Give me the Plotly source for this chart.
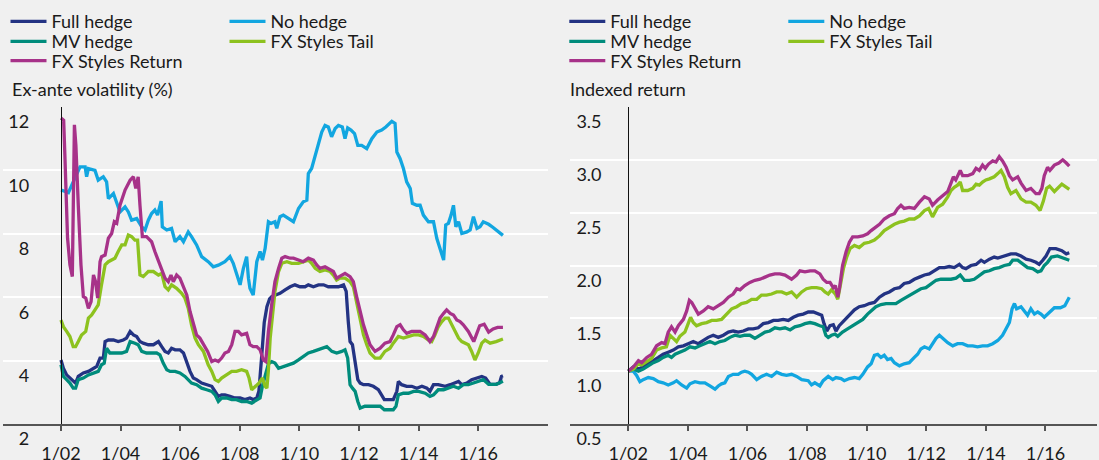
import plotly.graph_objects as go

# ---------------- data ----------------
SERIES = ["Full hedge", "No hedge", "MV hedge", "FX Styles Tail", "FX Styles Return"]
COLORS = ["#233383", "#12a6e0", "#008c7c", "#8dc21f", "#a73289"]
TICK_YEARS = [2002, 2004, 2006, 2008, 2010, 2012, 2014, 2016]
TICK_TEXT = ["1/02", "1/04", "1/06", "1/08", "1/10", "1/12", "1/14", "1/16"]
VOL_TICKS = [2, 4, 6, 8, 10, 12]
RET_TICKS = [0.5, 1.0, 1.5, 2.0, 2.5, 3.0, 3.5]
RET_TICK_TEXT = ["0.5", "1.0", "1.5", "2.0", "2.5", "3.0", "3.5"]

# Ex-ante volatility (%)
VOL_FULL_T = [2002.00, 2002.08, 2002.19, 2002.30, 2002.41, 2002.49, 2002.58, 2002.75, 2002.92, 2003.09, 2003.20,
              2003.31, 2003.42, 2003.48, 2003.59, 2003.76, 2003.92, 2004.09, 2004.20, 2004.32, 2004.43, 2004.54,
              2004.65, 2004.76, 2004.93, 2005.10, 2005.27, 2005.38, 2005.49, 2005.60, 2005.71, 2005.83, 2005.99,
              2006.11, 2006.22, 2006.33, 2006.44, 2006.55, 2006.72, 2006.89, 2007.06, 2007.17, 2007.28, 2007.39,
              2007.50, 2007.67, 2007.84, 2008.01, 2008.17, 2008.34, 2008.45, 2008.57, 2008.64, 2008.73, 2008.82,
              2008.91, 2009.00, 2009.07, 2009.18, 2009.35, 2009.52, 2009.69, 2009.85, 2010.02, 2010.19, 2010.30,
              2010.47, 2010.64, 2010.81, 2010.97, 2011.14, 2011.31, 2011.48, 2011.57, 2011.64, 2011.70, 2011.78,
              2011.87, 2011.96, 2012.04, 2012.15, 2012.32, 2012.48, 2012.65, 2012.76, 2012.85, 2012.99, 2013.15,
              2013.27, 2013.32, 2013.43, 2013.60, 2013.77, 2013.94, 2014.11, 2014.28, 2014.38, 2014.50, 2014.66,
              2014.89, 2015.06, 2015.22, 2015.34, 2015.45, 2015.62, 2015.78, 2015.95, 2016.12, 2016.25, 2016.40,
              2016.60, 2016.72, 2016.78, 2016.83]
VOL_FULL = [4.02, 3.76, 3.55, 3.45, 3.34, 3.29, 3.50, 3.61, 3.66, 3.76, 3.82,
            4.08, 4.08, 4.60, 4.65, 4.65, 4.60, 4.65, 4.71, 4.92, 4.81, 4.76,
            4.60, 4.55, 4.50, 4.50, 4.60, 4.44, 4.29, 4.24, 4.39, 4.34, 4.34,
            4.24, 3.92, 3.66, 3.45, 3.40, 3.29, 3.24, 3.19, 3.03, 2.87, 2.92,
            2.92, 2.87, 2.82, 2.82, 2.77, 2.82, 2.77, 2.82, 3.03, 4.08, 5.20,
            5.70, 5.95, 6.02, 6.07, 6.12, 6.23, 6.33, 6.39, 6.33, 6.33, 6.39,
            6.33, 6.39, 6.39, 6.33, 6.33, 6.33, 6.39, 6.18, 5.23, 4.60, 4.50,
            3.97, 3.40, 3.29, 3.24, 3.24, 3.19, 3.08, 2.92, 2.77, 2.77, 2.77,
            3.03, 3.34, 3.24, 3.19, 3.19, 3.13, 3.19, 3.13, 3.03, 3.24, 3.24,
            3.19, 3.24, 3.29, 3.34, 3.24, 3.29, 3.40, 3.45, 3.50, 3.45, 3.25,
            3.25, 3.30, 3.50, 3.52]

VOL_NONE_T = [2002.00, 2002.25, 2002.41, 2002.64, 2002.81, 2002.86, 2002.92, 2003.14, 2003.25, 2003.42, 2003.53,
              2003.59, 2003.76, 2003.87, 2003.98, 2004.15, 2004.26, 2004.37, 2004.54, 2004.71, 2004.82, 2004.93,
              2005.04, 2005.15, 2005.24, 2005.36, 2005.40, 2005.55, 2005.71, 2005.83, 2005.99, 2006.11, 2006.27,
              2006.38, 2006.55, 2006.72, 2006.94, 2007.11, 2007.28, 2007.50, 2007.67, 2007.78, 2007.89, 2008.01,
              2008.12, 2008.23, 2008.29, 2008.34, 2008.45, 2008.57, 2008.68, 2008.76, 2008.85, 2008.96, 2009.05,
              2009.18, 2009.24, 2009.35, 2009.46, 2009.63, 2009.80, 2009.97, 2010.13, 2010.25, 2010.30, 2010.41,
              2010.53, 2010.64, 2010.75, 2010.86, 2010.97, 2011.08, 2011.20, 2011.31, 2011.44, 2011.53, 2011.62,
              2011.73, 2011.85, 2011.96, 2012.09, 2012.26, 2012.43, 2012.60, 2012.76, 2012.90, 2013.10, 2013.21,
              2013.27, 2013.38, 2013.49, 2013.60, 2013.72, 2013.79, 2013.94, 2014.05, 2014.16, 2014.33, 2014.50,
              2014.61, 2014.72, 2014.84, 2014.91, 2015.00, 2015.09, 2015.17, 2015.25, 2015.34, 2015.45, 2015.62,
              2015.73, 2015.84, 2015.96, 2016.06, 2016.17, 2016.35, 2016.50, 2016.65, 2016.83]
VOL_NONE = [9.38, 9.30, 9.64, 10.11, 10.11, 9.80, 10.06, 10.00, 9.69, 9.80, 9.64,
            9.11, 9.27, 9.01, 8.69, 8.85, 8.69, 8.43, 8.48, 8.22, 8.12, 8.43,
            8.64, 8.75, 8.59, 9.03, 8.22, 8.12, 8.17, 7.75, 7.91, 7.75, 8.06,
            7.91, 7.65, 7.28, 7.12, 6.96, 7.01, 7.12, 7.28, 7.07, 6.70, 6.39,
            6.91, 7.28, 6.60, 6.28, 6.07, 7.12, 7.44, 7.17, 7.54, 8.38, 8.33,
            8.38, 8.17, 8.54, 8.59, 8.48, 8.38, 8.80, 9.01, 9.06, 9.90, 10.06,
            10.48, 10.85, 11.21, 11.42, 11.37, 11.06, 11.32, 11.42, 11.37, 11.00, 11.34,
            11.27, 11.16, 10.79, 10.79, 10.69, 11.00, 11.21, 11.27, 11.37, 11.55, 11.48,
            10.58, 10.37, 10.06, 9.64, 9.43, 8.96, 8.90, 8.90, 8.59, 8.38, 8.38,
            7.86, 7.54, 7.17, 8.28, 8.33, 8.59, 8.90, 8.22, 8.38, 8.01, 8.06,
            8.12, 8.54, 8.17, 8.22, 8.38, 8.30, 8.20, 8.10, 7.95]

VOL_MV_T = [2002.00, 2002.08, 2002.19, 2002.30, 2002.41, 2002.49, 2002.58, 2002.75, 2002.92, 2003.09, 2003.25,
            2003.36, 2003.45, 2003.53, 2003.64, 2003.81, 2004.04, 2004.20, 2004.32, 2004.48, 2004.59, 2004.71,
            2004.87, 2005.04, 2005.21, 2005.32, 2005.43, 2005.55, 2005.66, 2005.83, 2005.99, 2006.16, 2006.27,
            2006.38, 2006.55, 2006.72, 2006.89, 2007.06, 2007.17, 2007.28, 2007.39, 2007.56, 2007.73, 2007.89,
            2008.06, 2008.23, 2008.40, 2008.57, 2008.68, 2008.76, 2008.85, 2008.96, 2009.07, 2009.18, 2009.30,
            2009.46, 2009.63, 2009.80, 2009.97, 2010.13, 2010.30, 2010.47, 2010.64, 2010.81, 2010.92, 2011.09,
            2011.25, 2011.42, 2011.53, 2011.62, 2011.70, 2011.78, 2011.87, 2011.96, 2012.04, 2012.20, 2012.37,
            2012.54, 2012.71, 2012.85, 2012.99, 2013.15, 2013.24, 2013.32, 2013.49, 2013.66, 2013.83, 2014.00,
            2014.22, 2014.38, 2014.50, 2014.66, 2014.84, 2015.00, 2015.17, 2015.34, 2015.50, 2015.67, 2015.84,
            2016.00, 2016.17, 2016.35, 2016.60, 2016.83]
VOL_MV = [3.87, 3.50, 3.40, 3.29, 3.13, 3.13, 3.40, 3.45, 3.55, 3.61, 3.66,
          3.87, 3.92, 4.39, 4.24, 4.24, 4.24, 4.29, 4.60, 4.55, 4.50, 4.29,
          4.24, 4.24, 4.24, 4.18, 3.92, 3.71, 3.66, 3.66, 3.61, 3.50, 3.40,
          3.29, 3.24, 3.13, 3.08, 3.03, 2.92, 2.71, 2.82, 2.82, 2.77, 2.77,
          2.71, 2.71, 2.66, 2.77, 2.82, 3.20, 3.55, 3.90, 3.97, 3.92, 3.76,
          3.82, 3.87, 3.92, 4.02, 4.13, 4.24, 4.29, 4.34, 4.39, 4.44, 4.29,
          4.24, 4.29, 4.34, 4.08, 3.24, 3.13, 3.03, 2.71, 2.50, 2.56, 2.56,
          2.56, 2.56, 2.45, 2.45, 2.45, 2.56, 2.92, 2.97, 2.97, 3.03, 3.03,
          2.97, 2.87, 2.92, 3.08, 3.08, 3.13, 3.19, 3.13, 3.24, 3.24, 3.29,
          3.34, 3.40, 3.25, 3.25, 3.35]

VOL_TAIL_T = [2002.00, 2002.08, 2002.19, 2002.30, 2002.41, 2002.49, 2002.58, 2002.69, 2002.83, 2002.92, 2003.03,
              2003.14, 2003.25, 2003.36, 2003.48, 2003.59, 2003.70, 2003.81, 2003.92, 2004.04, 2004.15, 2004.26,
              2004.37, 2004.48, 2004.57, 2004.65, 2004.76, 2004.93, 2005.10, 2005.27, 2005.38, 2005.49, 2005.60,
              2005.71, 2005.88, 2006.05, 2006.16, 2006.27, 2006.38, 2006.50, 2006.61, 2006.78, 2006.94, 2007.06,
              2007.17, 2007.28, 2007.39, 2007.56, 2007.73, 2007.89, 2008.06, 2008.23, 2008.31, 2008.40, 2008.51,
              2008.64, 2008.76, 2008.85, 2008.91, 2008.96, 2009.02, 2009.10, 2009.18, 2009.30, 2009.41, 2009.58,
              2009.74, 2009.97, 2010.19, 2010.30, 2010.41, 2010.53, 2010.69, 2010.86, 2011.03, 2011.14, 2011.25,
              2011.36, 2011.53, 2011.70, 2011.81, 2011.92, 2012.04, 2012.15, 2012.26, 2012.37, 2012.54, 2012.71,
              2012.87, 2013.04, 2013.15, 2013.32, 2013.49, 2013.66, 2013.83, 2014.00, 2014.16, 2014.33, 2014.44,
              2014.55, 2014.66, 2014.78, 2014.89, 2015.00, 2015.11, 2015.22, 2015.34, 2015.45, 2015.56, 2015.67,
              2015.78, 2015.89, 2016.00, 2016.12, 2016.23, 2016.40, 2016.60, 2016.83]
VOL_TAIL = [5.28, 5.07, 4.92, 4.76, 4.44, 4.44, 4.60, 4.81, 4.92, 5.34, 5.44,
            5.60, 5.76, 6.39, 7.02, 7.12, 7.17, 7.23, 7.44, 7.65, 7.65, 7.96,
            7.91, 7.80, 7.80, 6.70, 6.65, 6.81, 6.81, 6.70, 6.75, 6.33, 6.23,
            6.39, 6.28, 6.12, 5.97, 5.65, 5.13, 4.71, 4.50, 4.29, 3.87, 3.66,
            3.40, 3.34, 3.45, 3.55, 3.66, 3.66, 3.71, 3.66, 3.45, 3.08, 3.19,
            3.29, 3.45, 3.19, 3.13, 3.70, 4.71, 5.34, 6.18, 6.81, 7.07, 7.12,
            7.07, 7.07, 7.12, 7.17, 7.07, 6.91, 6.81, 6.86, 6.81, 6.70, 6.54,
            6.60, 6.60, 6.49, 6.33, 5.86, 5.34, 4.81, 4.50, 4.24, 4.08, 4.08,
            4.29, 4.39, 4.55, 4.76, 4.71, 4.76, 4.81, 4.81, 4.76, 4.65, 4.60,
            4.81, 5.07, 5.23, 5.34, 5.34, 5.13, 4.92, 4.71, 4.60, 4.55, 4.50,
            4.29, 4.02, 4.24, 4.55, 4.65, 4.55, 4.60, 4.68]

VOL_RET_T = [2002.00, 2002.09, 2002.13, 2002.22, 2002.30, 2002.38, 2002.45, 2002.50, 2002.58, 2002.67, 2002.75,
             2002.83, 2002.92, 2003.01, 2003.09, 2003.16, 2003.23, 2003.31, 2003.36, 2003.48, 2003.59, 2003.70,
             2003.79, 2003.87, 2003.98, 2004.15, 2004.32, 2004.43, 2004.51, 2004.59, 2004.65, 2004.73, 2004.87,
             2005.04, 2005.15, 2005.27, 2005.38, 2005.49, 2005.60, 2005.69, 2005.77, 2005.88, 2005.99, 2006.11,
             2006.22, 2006.33, 2006.44, 2006.55, 2006.66, 2006.78, 2006.92, 2007.06, 2007.17, 2007.28, 2007.39,
             2007.50, 2007.62, 2007.73, 2007.84, 2007.95, 2008.06, 2008.23, 2008.34, 2008.45, 2008.57, 2008.68,
             2008.79, 2008.87, 2008.96, 2009.07, 2009.18, 2009.30, 2009.41, 2009.52, 2009.69, 2009.80, 2009.97,
             2010.13, 2010.30, 2010.47, 2010.58, 2010.69, 2010.86, 2011.03, 2011.14, 2011.25, 2011.36, 2011.53,
             2011.70, 2011.81, 2011.92, 2012.04, 2012.15, 2012.26, 2012.37, 2012.54, 2012.71, 2012.87, 2013.04,
             2013.15, 2013.27, 2013.38, 2013.49, 2013.60, 2013.77, 2013.88, 2014.05, 2014.22, 2014.38, 2014.50,
             2014.61, 2014.72, 2014.84, 2014.94, 2015.06, 2015.17, 2015.28, 2015.39, 2015.50, 2015.67, 2015.85,
             2016.05, 2016.20, 2016.35, 2016.50, 2016.65, 2016.83]
VOL_RET = [11.65, 11.58, 10.48, 7.86, 7.02, 6.65, 11.44, 10.79, 8.90, 7.02, 6.02,
           5.97, 5.65, 5.86, 6.70, 6.49, 5.97, 7.12, 7.28, 7.33, 7.86, 8.01,
           8.38, 8.33, 8.90, 9.38, 9.69, 9.80, 9.43, 9.80, 8.90, 7.91, 7.91,
           7.75, 7.44, 7.12, 6.86, 6.60, 6.49, 6.70, 6.49, 6.70, 6.60, 6.33,
           6.07, 5.55, 5.13, 4.81, 4.71, 4.50, 4.29, 3.97, 4.02, 3.97, 4.08,
           4.24, 4.29, 4.50, 4.92, 4.92, 4.81, 4.86, 4.50, 4.44, 4.44, 4.34,
           4.02, 3.97, 4.92, 5.76, 6.49, 6.91, 7.23, 7.28, 7.23, 7.23, 7.17,
           7.12, 7.23, 7.17, 7.02, 6.91, 6.96, 6.86, 6.81, 6.60, 6.65, 6.75,
           6.65, 6.49, 6.02, 5.55, 5.13, 4.81, 4.50, 4.29, 4.39, 4.55, 4.60,
           4.81, 5.07, 5.13, 4.97, 4.86, 4.92, 4.92, 4.92, 4.81, 4.60, 4.76,
           5.07, 5.34, 5.49, 5.60, 5.49, 5.44, 5.28, 5.23, 5.13, 4.92, 4.60,
           5.10, 5.15, 4.90, 5.00, 5.05, 5.05]

# Indexed return
RET_FULL_T = [2002.00, 2002.17, 2002.34, 2002.50, 2002.67, 2002.84, 2003.01, 2003.17, 2003.34, 2003.51, 2003.68,
              2003.85, 2004.01, 2004.18, 2004.35, 2004.52, 2004.68, 2004.85, 2005.02, 2005.19, 2005.36, 2005.52,
              2005.69, 2005.86, 2006.03, 2006.19, 2006.36, 2006.53, 2006.70, 2006.87, 2007.03, 2007.20, 2007.37,
              2007.54, 2007.70, 2007.87, 2008.04, 2008.21, 2008.38, 2008.49, 2008.57, 2008.66, 2008.77, 2008.88,
              2008.97, 2009.08, 2009.25, 2009.42, 2009.59, 2009.75, 2009.92, 2010.09, 2010.26, 2010.43, 2010.59,
              2010.76, 2010.93, 2011.10, 2011.26, 2011.43, 2011.60, 2011.77, 2011.94, 2012.10, 2012.27, 2012.44,
              2012.61, 2012.77, 2012.94, 2013.11, 2013.22, 2013.33, 2013.50, 2013.67, 2013.84, 2013.95, 2014.12,
              2014.28, 2014.40, 2014.51, 2014.68, 2014.84, 2015.01, 2015.18, 2015.35, 2015.51, 2015.68, 2015.79,
              2015.91, 2016.02, 2016.15, 2016.35, 2016.55, 2016.70, 2016.80]
RET_FULL = [1.00, 1.04, 1.02, 1.04, 1.08, 1.10, 1.13, 1.16, 1.18, 1.20, 1.23,
            1.24, 1.26, 1.28, 1.26, 1.29, 1.32, 1.34, 1.32, 1.34, 1.37, 1.38,
            1.37, 1.38, 1.40, 1.40, 1.41, 1.45, 1.46, 1.48, 1.48, 1.49, 1.48,
            1.51, 1.53, 1.54, 1.56, 1.56, 1.54, 1.53, 1.45, 1.38, 1.43, 1.44,
            1.38, 1.43, 1.48, 1.53, 1.58, 1.61, 1.62, 1.64, 1.65, 1.70, 1.73,
            1.75, 1.78, 1.79, 1.83, 1.84, 1.87, 1.89, 1.91, 1.92, 1.95, 1.98,
            1.98, 1.99, 1.98, 2.01, 1.98, 1.97, 2.00, 2.01, 2.05, 2.03, 2.06,
            2.08, 2.07, 2.08, 2.09, 2.11, 2.11, 2.09, 2.06, 2.05, 2.03, 2.01,
            2.05, 2.09, 2.16, 2.16, 2.14, 2.11, 2.12]

RET_NONE_T = [2002.00, 2002.17, 2002.28, 2002.39, 2002.50, 2002.67, 2002.84, 2003.01, 2003.17, 2003.34, 2003.51,
              2003.62, 2003.79, 2003.96, 2004.07, 2004.24, 2004.40, 2004.57, 2004.74, 2004.91, 2005.02, 2005.13,
              2005.24, 2005.36, 2005.52, 2005.69, 2005.80, 2005.91, 2006.03, 2006.14, 2006.31, 2006.47, 2006.64,
              2006.81, 2006.98, 2007.15, 2007.31, 2007.48, 2007.65, 2007.82, 2008.04, 2008.15, 2008.26, 2008.43,
              2008.54, 2008.71, 2008.86, 2008.97, 2009.14, 2009.25, 2009.42, 2009.59, 2009.75, 2009.87, 2010.03,
              2010.15, 2010.26, 2010.37, 2010.48, 2010.59, 2010.70, 2010.82, 2010.93, 2011.10, 2011.26, 2011.43,
              2011.60, 2011.71, 2011.82, 2011.94, 2012.10, 2012.21, 2012.33, 2012.44, 2012.55, 2012.72, 2012.89,
              2013.05, 2013.22, 2013.39, 2013.56, 2013.72, 2013.89, 2014.06, 2014.23, 2014.40, 2014.56, 2014.68,
              2014.79, 2014.88, 2014.96, 2015.03, 2015.18, 2015.29, 2015.40, 2015.51, 2015.63, 2015.74, 2015.85,
              2015.96, 2016.07, 2016.30, 2016.50, 2016.65, 2016.80]
RET_NONE = [1.00, 1.00, 0.96, 0.90, 0.92, 0.94, 0.93, 0.90, 0.89, 0.87, 0.89,
            0.91, 0.87, 0.84, 0.88, 0.90, 0.89, 0.89, 0.86, 0.83, 0.86, 0.88,
            0.89, 0.95, 0.97, 0.97, 0.99, 1.00, 0.99, 0.97, 0.92, 0.95, 0.97,
            0.95, 0.99, 0.97, 0.96, 0.97, 0.95, 0.92, 0.91, 0.87, 0.89, 0.86,
            0.91, 0.95, 0.92, 0.94, 0.93, 0.91, 0.93, 0.94, 0.93, 0.97, 1.04,
            1.07, 1.15, 1.16, 1.13, 1.15, 1.11, 1.12, 1.08, 1.05, 1.07, 1.08,
            1.13, 1.16, 1.21, 1.23, 1.21, 1.26, 1.31, 1.34, 1.31, 1.27, 1.24,
            1.26, 1.26, 1.24, 1.24, 1.23, 1.24, 1.24, 1.26, 1.29, 1.34, 1.40,
            1.46, 1.59, 1.64, 1.59, 1.61, 1.57, 1.53, 1.59, 1.54, 1.56, 1.54,
            1.51, 1.54, 1.60, 1.60, 1.62, 1.70]

RET_MV_T = [2002.00, 2002.17, 2002.34, 2002.50, 2002.67, 2002.84, 2003.01, 2003.17, 2003.34, 2003.45, 2003.57,
            2003.73, 2003.90, 2004.07, 2004.24, 2004.40, 2004.57, 2004.74, 2004.91, 2005.08, 2005.24, 2005.41,
            2005.58, 2005.75, 2005.91, 2006.08, 2006.25, 2006.42, 2006.59, 2006.75, 2006.92, 2007.09, 2007.26,
            2007.43, 2007.59, 2007.76, 2007.93, 2008.10, 2008.26, 2008.43, 2008.54, 2008.63, 2008.71, 2008.82,
            2008.94, 2009.03, 2009.19, 2009.36, 2009.53, 2009.70, 2009.87, 2010.03, 2010.15, 2010.31, 2010.48,
            2010.65, 2010.82, 2010.98, 2011.15, 2011.32, 2011.49, 2011.66, 2011.82, 2011.99, 2012.16, 2012.33,
            2012.49, 2012.66, 2012.83, 2013.00, 2013.14, 2013.28, 2013.45, 2013.61, 2013.78, 2013.95, 2014.12,
            2014.28, 2014.45, 2014.62, 2014.79, 2014.90, 2015.07, 2015.24, 2015.40, 2015.57, 2015.74, 2015.85,
            2015.96, 2016.07, 2016.20, 2016.40, 2016.60, 2016.80]
RET_MV = [1.00, 1.02, 1.00, 1.02, 1.05, 1.08, 1.10, 1.13, 1.15, 1.13, 1.16,
          1.18, 1.20, 1.23, 1.22, 1.24, 1.26, 1.28, 1.26, 1.28, 1.29, 1.32,
          1.34, 1.33, 1.34, 1.34, 1.31, 1.34, 1.37, 1.38, 1.41, 1.40, 1.41,
          1.39, 1.42, 1.43, 1.45, 1.46, 1.45, 1.43, 1.42, 1.34, 1.32, 1.34,
          1.35, 1.33, 1.37, 1.40, 1.43, 1.46, 1.49, 1.54, 1.57, 1.61, 1.63,
          1.64, 1.64, 1.64, 1.67, 1.70, 1.73, 1.76, 1.78, 1.79, 1.83, 1.86,
          1.87, 1.87, 1.87, 1.88, 1.91, 1.86, 1.86, 1.87, 1.91, 1.94, 1.95,
          1.97, 1.98, 2.00, 2.01, 2.05, 2.05, 2.01, 1.98, 1.97, 1.94, 1.95,
          2.00, 2.03, 2.08, 2.09, 2.07, 2.05]

RET_TAIL_T = [2002.00, 2002.17, 2002.34, 2002.45, 2002.62, 2002.78, 2002.95, 2003.12, 2003.28, 2003.40, 2003.51,
              2003.62, 2003.73, 2003.90, 2004.01, 2004.09, 2004.18, 2004.29, 2004.46, 2004.63, 2004.80, 2004.96,
              2005.13, 2005.30, 2005.47, 2005.64, 2005.80, 2005.97, 2006.14, 2006.31, 2006.47, 2006.64, 2006.81,
              2006.98, 2007.15, 2007.31, 2007.48, 2007.65, 2007.82, 2007.98, 2008.15, 2008.32, 2008.49, 2008.60,
              2008.71, 2008.82, 2008.95, 2009.03, 2009.11, 2009.22, 2009.33, 2009.44, 2009.59, 2009.75, 2009.92,
              2010.09, 2010.26, 2010.43, 2010.59, 2010.76, 2010.93, 2011.10, 2011.26, 2011.43, 2011.60, 2011.77,
              2011.94, 2012.08, 2012.21, 2012.38, 2012.55, 2012.72, 2012.83, 2012.94, 2013.05, 2013.14, 2013.22,
              2013.39, 2013.56, 2013.67, 2013.78, 2013.89, 2014.00, 2014.12, 2014.28, 2014.40, 2014.51, 2014.62,
              2014.73, 2014.84, 2015.01, 2015.18, 2015.35, 2015.51, 2015.68, 2015.82, 2015.93, 2016.04, 2016.14,
              2016.30, 2016.55, 2016.80]
RET_TAIL = [1.00, 1.02, 1.07, 1.06, 1.09, 1.12, 1.20, 1.22, 1.23, 1.34, 1.31,
            1.28, 1.33, 1.37, 1.45, 1.51, 1.46, 1.43, 1.45, 1.46, 1.48, 1.48,
            1.49, 1.54, 1.59, 1.61, 1.64, 1.65, 1.68, 1.68, 1.72, 1.72, 1.73,
            1.75, 1.75, 1.73, 1.75, 1.70, 1.75, 1.78, 1.79, 1.79, 1.78, 1.75,
            1.73, 1.77, 1.73, 1.68, 1.81, 1.97, 2.08, 2.16, 2.19, 2.17, 2.21,
            2.22, 2.24, 2.28, 2.33, 2.36, 2.39, 2.41, 2.42, 2.44, 2.44, 2.47,
            2.52, 2.54, 2.46, 2.55, 2.58, 2.65, 2.71, 2.74, 2.76, 2.79, 2.71,
            2.71, 2.73, 2.77, 2.76, 2.79, 2.81, 2.82, 2.84, 2.87, 2.90, 2.84,
            2.74, 2.68, 2.71, 2.63, 2.60, 2.60, 2.57, 2.52, 2.61, 2.73, 2.75,
            2.70, 2.77, 2.72]

RET_RET_T = [2002.00, 2002.17, 2002.34, 2002.45, 2002.62, 2002.78, 2002.95, 2003.12, 2003.23, 2003.34, 2003.45,
             2003.57, 2003.68, 2003.85, 2003.96, 2004.05, 2004.13, 2004.24, 2004.35, 2004.52, 2004.68, 2004.85,
             2005.02, 2005.19, 2005.36, 2005.52, 2005.64, 2005.75, 2005.91, 2006.08, 2006.25, 2006.42, 2006.59,
             2006.75, 2006.92, 2007.09, 2007.26, 2007.37, 2007.48, 2007.65, 2007.76, 2007.93, 2008.10, 2008.26,
             2008.43, 2008.54, 2008.66, 2008.77, 2008.88, 2008.95, 2009.03, 2009.09, 2009.19, 2009.31, 2009.42,
             2009.53, 2009.70, 2009.87, 2010.03, 2010.15, 2010.26, 2010.43, 2010.59, 2010.76, 2010.93, 2011.04,
             2011.15, 2011.26, 2011.43, 2011.60, 2011.77, 2011.94, 2012.10, 2012.21, 2012.38, 2012.55, 2012.72,
             2012.83, 2012.91, 2012.99, 2013.14, 2013.22, 2013.39, 2013.56, 2013.67, 2013.78, 2013.89, 2013.98,
             2014.09, 2014.23, 2014.34, 2014.45, 2014.56, 2014.68, 2014.79, 2014.90, 2015.07, 2015.18, 2015.35,
             2015.51, 2015.68, 2015.79, 2015.88, 2015.96, 2016.07, 2016.15, 2016.30, 2016.45, 2016.58, 2016.70,
             2016.80]
RET_RET = [1.00, 1.04, 1.10, 1.08, 1.13, 1.16, 1.24, 1.27, 1.26, 1.37, 1.42,
           1.37, 1.43, 1.49, 1.57, 1.67, 1.65, 1.59, 1.54, 1.57, 1.61, 1.59,
           1.62, 1.65, 1.70, 1.73, 1.78, 1.77, 1.81, 1.84, 1.86, 1.87, 1.89,
           1.91, 1.92, 1.92, 1.91, 1.89, 1.87, 1.91, 1.95, 1.94, 1.95, 1.95,
           1.92, 1.87, 1.84, 1.84, 1.79, 1.81, 1.70, 1.79, 2.00, 2.13, 2.22,
           2.27, 2.27, 2.28, 2.30, 2.33, 2.35, 2.39, 2.44, 2.47, 2.49, 2.54,
           2.57, 2.54, 2.55, 2.54, 2.60, 2.65, 2.63, 2.57, 2.62, 2.66, 2.70,
           2.78, 2.84, 2.81, 2.90, 2.85, 2.85, 2.87, 2.92, 2.90, 2.95, 2.92,
           2.96, 2.99, 2.98, 3.03, 2.99, 2.93, 2.85, 2.81, 2.84, 2.78, 2.71,
           2.73, 2.68, 2.68, 2.73, 2.85, 2.93, 2.90, 2.95, 2.97, 3.00, 2.97,
           2.94]

VOL_DATA = [(VOL_FULL_T, VOL_FULL), (VOL_NONE_T, VOL_NONE), (VOL_MV_T, VOL_MV),
            (VOL_TAIL_T, VOL_TAIL), (VOL_RET_T, VOL_RET)]
RET_DATA = [(RET_FULL_T, RET_FULL), (RET_NONE_T, RET_NONE), (RET_MV_T, RET_MV),
            (RET_TAIL_T, RET_TAIL), (RET_RET_T, RET_RET)]

# ---------------- layout geometry ----------------
W, H = 1099, 460
ML, MR, MT, MB = 3, 2, 107, 36
PW = W - ML - MR
PH = H - MT - MB
FONT = "Lato"
FS = 18
TXT = "#1a1a1a"
BG = "#f0f0f0"


def px_x(p):
    return (p - ML) / PW


def px_y(p):
    return (H - MB - p) / PH


LEFT_DOM = [0.0, px_x(548)]
RIGHT_DOM = [px_x(570), 1.0]

# legend row membership: row index for each series
ROW_OF = [0, 0, 1, 1, 2]
ROW_Y = [21.7, 41.7, 61.0]

fig = go.Figure()

for panel, data in enumerate([VOL_DATA, RET_DATA]):
    xa = "x" if panel == 0 else "x2"
    ya = "y" if panel == 0 else "y2"
    for i, (t, v) in enumerate(data):
        leg_idx = panel * 3 + ROW_OF[i] + 1
        fig.add_trace(go.Scatter(
            x=t, y=v, mode="lines", name=SERIES[i],
            line=dict(color=COLORS[i], width=3.3),
            xaxis=xa, yaxis=ya,
            legend="legend" if leg_idx == 1 else f"legend{leg_idx}",
            hoverinfo="skip",
        ))

legend_common = dict(orientation="h", bgcolor="rgba(0,0,0,0)", borderwidth=0,
                     font=dict(family=FONT, size=FS, color=TXT), itemwidth=36,
                     xanchor="left", yanchor="middle", entrywidth=168, entrywidthmode="pixels",
                     itemclick=False, itemdoubleclick=False, tracegroupgap=0)
legend_layout = {}
for panel, left_px in enumerate([5.5, 564.3]):
    for r in range(3):
        idx = panel * 3 + r + 1
        key = "legend" if idx == 1 else f"legend{idx}"
        legend_layout[key] = dict(legend_common, x=px_x(left_px), y=px_y(ROW_Y[r]))

axis_font = dict(family=FONT, size=FS, color=TXT)

xaxis_common = dict(
    tickmode="array", tickvals=TICK_YEARS, ticktext=TICK_TEXT,
    ticks="outside", ticklen=5, tickwidth=1.5, tickcolor="#555555",
    showline=True, linecolor="#555555", linewidth=2,
    showgrid=False, zeroline=False, tickfont=axis_font, ticklabelstandoff=7,
)
yaxis_common = dict(
    showline=True, linecolor="#111111", linewidth=1.3,
    showgrid=True, gridcolor="#ffffff", gridwidth=2,
    zeroline=False, ticks="", tickfont=axis_font, anchor="free",
    ticklabelshift=15,
)

fig.update_layout(
    width=W, height=H,
    margin=dict(l=ML, r=MR, t=MT, b=MB, autoexpand=False),
    paper_bgcolor=BG, plot_bgcolor=BG,
    showlegend=True,
    xaxis=dict(xaxis_common, domain=LEFT_DOM, range=[2000.054, 2018.342], anchor="y"),
    xaxis2=dict(xaxis_common, domain=RIGHT_DOM, range=[2000.044, 2017.73], anchor="y2"),
    yaxis=dict(yaxis_common, range=[2, 12], tickmode="array", tickvals=VOL_TICKS,
               position=px_x(61), ticklabelstandoff=28),
    yaxis2=dict(yaxis_common, range=[0.5, 3.5], tickmode="array", tickvals=RET_TICKS,
                ticktext=RET_TICK_TEXT, position=px_x(628.3), ticklabelstandoff=23),
    annotations=[
        dict(text="Ex-ante volatility (%)", xref="paper", yref="paper", x=px_x(9.5), y=px_y(89.3),
             xanchor="left", yanchor="middle", showarrow=False, font=dict(family=FONT, size=FS, color=TXT)),
        dict(text="Indexed return", xref="paper", yref="paper", x=px_x(568.3), y=px_y(89.3),
             xanchor="left", yanchor="middle", showarrow=False, font=dict(family=FONT, size=FS, color=TXT)),
    ],
    **legend_layout,
)

fig.write_html(
    "out.html",
    config={"displayModeBar": False, "staticPlot": False},
    post_script="document.body.style.margin='0';document.body.style.background='#f0f0f0';"
                "document.documentElement.style.background='#f0f0f0';",
)
